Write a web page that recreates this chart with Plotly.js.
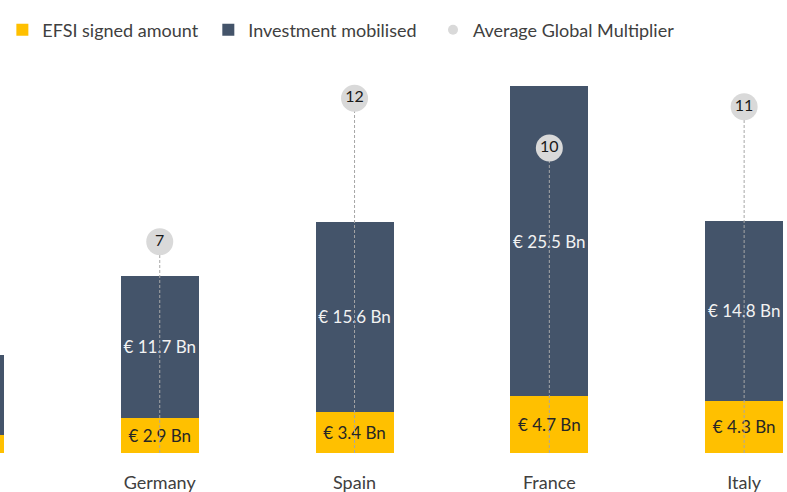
<!DOCTYPE html>
<html>
<head>
<meta charset="utf-8">
<script src="https://cdn.plot.ly/plotly-3.0.1.min.js"></script>
<style>html,body{margin:0;padding:0;background:#fff;}#chart{width:787px;height:492px;}</style>
</head>
<body>
<div id="chart"></div>
<script>
// Data
const categories = ["Poland", "Germany", "Spain", "France", "Italy"];
const efsiSigned = [1.5, 2.9, 3.4, 4.7, 4.3];              // € Bn
const investmentMobilised = [6.6, 11.7, 15.6, 25.5, 14.8]; // € Bn
const multiplier = [null, 6.93, 11.63, 10.0, 11.35];       // first category is outside the crop
const multiplierLabels = ["", "7", "12", "10", "11"];
const labelShown = [false, true, true, true, true];        // first bar is cut off at the left edge

const fontFam = "Lato, 'Open Sans', sans-serif";
const fmt = (v, i) => labelShown[i] ? "€ " + v.toFixed(1) + " Bn" : "";

// dashed connectors from baseline to each multiplier bubble
const lineX = [], lineY = [];
categories.forEach((c, i) => {
  if (multiplier[i] !== null) { lineX.push(c, c, null); lineY.push(0, multiplier[i], null); }
});

const traces = [
  {
    type: "bar", name: "EFSI signed amount", x: categories, y: efsiSigned, legend: "legend",
    marker: {color: "#FFC000", line: {width: 0}}, width: 0.4,
    text: efsiSigned.map(fmt), textposition: "inside", insidetextanchor: "middle",
    textangle: 0, constraintext: "none",
    insidetextfont: {family: fontFam, size: 17, color: "#262626"},
    hoverinfo: "skip"
  },
  {
    type: "bar", name: "Investment mobilised", x: categories, y: investmentMobilised, legend: "legend2",
    marker: {color: "#44546A", line: {width: 0}}, width: 0.4,
    text: investmentMobilised.map(fmt), textposition: "inside", insidetextanchor: "middle",
    textangle: 0, constraintext: "none",
    insidetextfont: {family: fontFam, size: 17, color: "#F2F2F2"},
    hoverinfo: "skip"
  },
  {
    type: "scatter", mode: "lines", x: lineX, y: lineY, yaxis: "y2",
    line: {color: "#A6A6A6", width: 1, dash: "3px,2px"},
    showlegend: false, hoverinfo: "skip", connectgaps: false
  },
  {
    type: "scatter", mode: "markers+text", x: categories, y: multiplier, yaxis: "y2",
    text: multiplierLabels, textposition: "middle center",
    textfont: {family: fontFam, size: 16, color: "#1a1a1a"},
    marker: {size: 27, color: "#D9D9D9"},
    showlegend: false, hoverinfo: "skip"
  },
  {
    type: "scatter", mode: "markers", x: [null], y: [null], yaxis: "y2", legend: "legend3",
    name: "Average Global Multiplier", marker: {size: 10, color: "#D9D9D9"},
    hoverinfo: "skip"
  }
];

const legendBase = {
  orientation: "h", xanchor: "left", y: 0.939, yanchor: "middle", yref: "container",
  font: {family: fontFam, size: 18, color: "#404040"}, bgcolor: "rgba(0,0,0,0)"
};

const layout = {
  width: 787, height: 492,
  margin: {l: 0, r: 0, t: 60, b: 39, pad: 0},
  paper_bgcolor: "#ffffff", plot_bgcolor: "#ffffff",
  barmode: "stack",
  showlegend: true,
  legend: Object.assign({}, legendBase, {x: 0.003}),
  legend2: Object.assign({}, legendBase, {x: 0.2647}),
  legend3: Object.assign({}, legendBase, {x: 0.5502}),
  xaxis: {type: "category", range: [0.18, 4.22], showgrid: false, zeroline: false,
          showline: false, ticks: "outside", ticklen: 13, tickcolor: "rgba(0,0,0,0)",
          tickfont: {family: fontFam, size: 18, color: "#404040"},
          fixedrange: true},
  yaxis: {range: [0, 32.35], visible: false, showgrid: false, zeroline: false, fixedrange: true},
  yaxis2: {range: [0, 12.885], overlaying: "y", side: "right", visible: false,
           showgrid: false, zeroline: false, fixedrange: true},
  hovermode: false
};

Plotly.newPlot("chart", traces, layout, {displayModeBar: false, staticPlot: true});
</script>
</body>
</html>
